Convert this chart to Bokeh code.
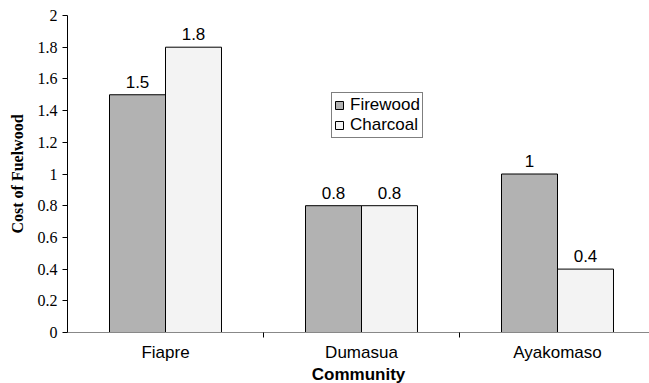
from bokeh.plotting import figure
from bokeh.models import Range1d, FixedTicker, ColumnDataSource, Legend, LegendItem
from bokeh.transform import dodge
from bokeh.embed import file_html
from bokeh.resources import INLINE
from bokeh.core.properties import value

categories = ["Fiapre", "Dumasua", "Ayakomaso"]
firewood = [1.5, 0.8, 1.0]
charcoal = [1.8, 0.8, 0.4]
firewood_labels = ["1.5", "0.8", "1"]
charcoal_labels = ["1.8", "0.8", "0.4"]
y_ticks = [0, 0.2, 0.4, 0.6, 0.8, 1, 1.2, 1.4, 1.6, 1.8, 2]

xc = [i + 0.5 for i in range(len(categories))]
src = ColumnDataSource(dict(x=xc, fw=firewood, ch=charcoal, fwl=firewood_labels, chl=charcoal_labels))

# category slot is 196 px wide; plot area visible width 582 px (frame is clipped at the right edge)
p = figure(frame_width=582, frame_height=317, output_backend="svg", toolbar_location=None,
           x_range=Range1d(0, 582 / 196), y_range=Range1d(0, 2),
           min_border_left=67, min_border_right=0, min_border_top=15, min_border_bottom=51)
p.outline_line_color = None
p.grid.visible = False
p.background_fill_color = "white"
p.border_fill_color = "white"

w = 0.2857
r1 = p.vbar(x=dodge("x", -w / 2), top="fw", width=w, bottom=0, source=src,
            fill_color="#b2b2b2", line_color="black", line_width=1)
r2 = p.vbar(x=dodge("x", w / 2), top="ch", width=w, bottom=0, source=src,
            fill_color="#f3f3f3", line_color="black", line_width=1)

p.text(x=dodge("x", -w / 2), y="fw", text="fwl", source=src, text_align="center",
       text_baseline="bottom", y_offset=-7, text_font=value("Liberation Sans"),
       text_font_size="17px", text_color="black")
p.text(x=dodge("x", w / 2), y="ch", text="chl", source=src, text_align="center",
       text_baseline="bottom", y_offset=-7, text_font=value("Liberation Sans"),
       text_font_size="17px", text_color="black")

# x axis
xa = p.xaxis[0]
xa.ticker = FixedTicker(ticks=xc, minor_ticks=[1, 2])
xa.major_label_overrides = {x: c for x, c in zip(xc, categories)}
xa.major_tick_out = 0
xa.major_tick_in = 0
xa.minor_tick_out = 5
xa.minor_tick_in = 0
xa.minor_tick_line_color = "black"
xa.axis_line_color = "#888888"
xa.major_label_text_font = "Liberation Sans"
xa.major_label_text_font_size = "17px"
xa.major_label_text_line_height = 1.0
xa.major_label_text_color = "black"
xa.major_label_standoff = 5
xa.axis_label = "Community"
xa.axis_label_text_font = "Liberation Sans"
xa.axis_label_text_font_style = "bold"
xa.axis_label_text_font_size = "17px"
xa.axis_label_text_line_height = 1.0
xa.axis_label_text_color = "black"
xa.axis_label_standoff = 0

ya = p.yaxis[0]
ya.ticker = FixedTicker(ticks=y_ticks, minor_ticks=[])
ya.major_label_overrides = {t: (str(int(t)) if t == int(t) else str(t)) for t in y_ticks}
ya.major_tick_out = 5
ya.major_tick_in = 0
ya.major_tick_line_color = "black"
ya.axis_line_color = "black"
ya.major_label_text_font = "Liberation Serif"
ya.major_label_text_font_size = "16px"
ya.major_label_text_color = "black"
ya.major_label_standoff = 5
ya.axis_label = "Cost of Fuelwood"
ya.axis_label_text_font = "Liberation Serif"
ya.axis_label_text_font_style = "bold"
ya.axis_label_text_font_size = "16px"
ya.axis_label_text_color = "black"
ya.axis_label_standoff = 9

legend = Legend(items=[LegendItem(label="Firewood", renderers=[r1]),
                       LegendItem(label="Charcoal", renderers=[r2])],
                location=(264, 194))
legend.glyph_width = 10
legend.glyph_height = 10
legend.label_text_font = "Liberation Sans"
legend.label_text_font_size = "17px"
legend.label_text_color = "black"
legend.label_standoff = 6
legend.spacing = 0
legend.padding = 2
legend.margin = 0
legend.label_height = 16
legend.border_line_color = "black"
legend.border_line_width = 1
legend.background_fill_alpha = 1
p.add_layout(legend, "center")

open("out.html", "w").write(file_html(p, INLINE))
